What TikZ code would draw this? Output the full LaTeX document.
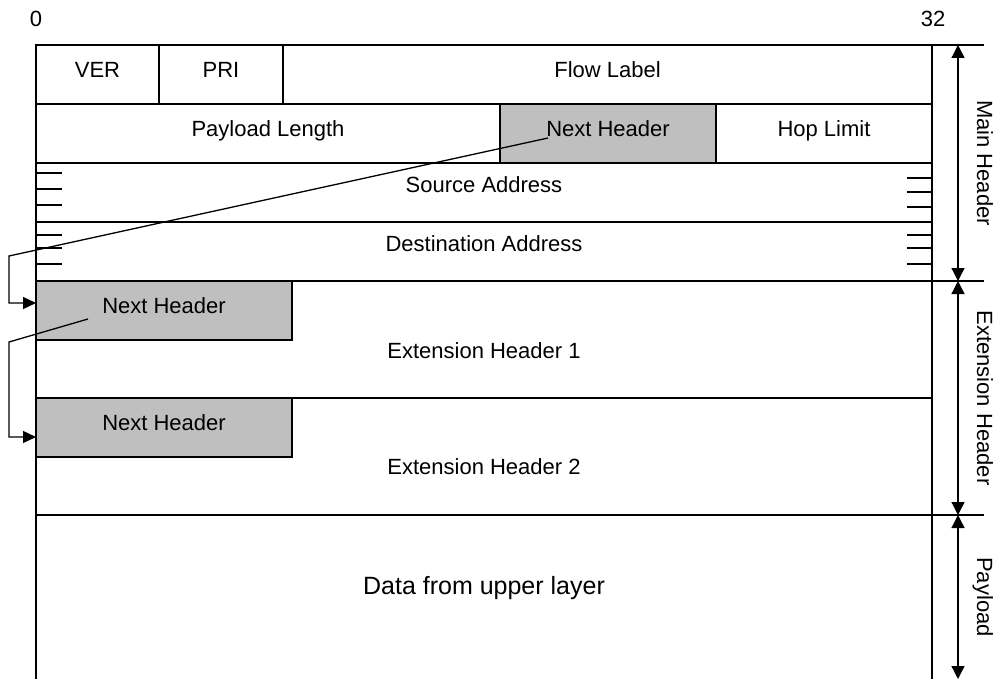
\documentclass[tikz,border=0pt]{standalone}
\usepackage{fontspec}
\setmainfont{Liberation Sans}
\usetikzlibrary{arrows.meta}
\begin{document}
\begin{tikzpicture}[x=1pt, y=-1pt, line width=1.3pt,
  txt/.style={font=\fontsize{22}{26}\selectfont, inner sep=0pt},
  cell/.style={draw, rectangle, inner sep=0pt, outer sep=0pt,
    font=\fontsize{22}{26}\selectfont, text height=16pt, text depth=10pt,
    minimum height=59pt},
  mid/.style={text height=16pt, text depth=16pt},
  shaded/.style={cell, fill=black!25},
  tip/.style={-{Triangle[length=13pt,width=12pt]}},
  span/.style={{Triangle[length=13pt,width=13pt]}-{Triangle[length=13pt,width=13pt]}}]
\useasboundingbox (0,0) rectangle (1000,679);

% bit scale
\node[txt, anchor=base] (b0)  at (36,27)  {0};
\node[txt, anchor=base] (b32) at (933,27) {32};

% main header, row 1
\node[cell, minimum width=123pt] (ver)  at (97.5,74.5)  {VER};
\node[cell, minimum width=124pt] (pri)  at (221,74.5)   {PRI};
\node[cell, minimum width=649pt] (flow) at (607.5,74.5) {Flow Label};
% row 2
\node[cell, minimum width=464pt] (plen) at (268,133.5) {Payload Length};
\node[shaded, minimum width=216pt] (nh0) at (608,133.5) {Next Header};
\node[cell, minimum width=216pt] (hop)  at (824,133.5) {Hop Limit};
% addresses
\node[cell, mid, minimum width=896pt] (src) at (484,192.5) {Source Address};
\node[cell, mid, minimum width=896pt] (dst) at (484,251.5) {Destination Address};

% extension headers
\node[cell, minimum width=896pt, minimum height=117pt] (ext1) at (484,339.5) {};
\node[cell, minimum width=896pt, minimum height=117pt] (ext2) at (484,456.5) {};
\node[shaded, minimum width=256pt] (nh1) at (164,310.5) {Next Header};
\node[shaded, minimum width=256pt] (nh2) at (164,427.5) {Next Header};
\node[txt, anchor=base] (ext1lbl) at (484,358) {Extension Header 1};
\node[txt, anchor=base] (ext2lbl) at (484,474) {Extension Header 2};

% payload area (open at the bottom)
\draw (ext2.south west) -- (36,679);
\draw (ext2.south east) -- (932,679);
\node[font=\fontsize{25}{30}\selectfont, inner sep=0pt, anchor=base] (data) at (484,594) {Data from upper layer};

% continuation ticks on the address rows
\foreach \y in {173,189,205,235,248,264} \draw (36,\y) -- (62,\y);
\foreach \y in {178,192,207,235,248,264} \draw (907,\y) -- (932,\y);

% next-header chain
\coordinate (k1) at (9,256);
\coordinate (k2) at (9,342);
\draw[tip] ([shift={(-60,4.5)}]nh0.center) -- (k1) |- ([yshift=7.5pt]nh1.west);
\draw[tip] ([shift={(-76,8.5)}]nh1.center) -- (k2) |- ([yshift=-9.5pt]nh2.west);

% section extents
\draw (flow.north east) -- (984,45);
\draw (dst.south east) -- (984,281);
\draw (ext2.south east) -- (984,515);
\coordinate (s0) at (958,45);
\coordinate (s1) at (958,281);
\coordinate (s2) at (958,515);
\coordinate (s3) at (958,679);
\draw[span] (s0) -- (s1);
\draw[span] (s1) -- (s2);
\draw[span] (s2) -- (s3);
\node[txt, rotate=-90, anchor=base] (lmain) at (977,163) {Main Header};
\node[txt, rotate=-90, anchor=base] (lext)  at (977,398) {Extension Header};
\node[txt, rotate=-90, anchor=base] (lpay)  at (977,597) {Payload};
\end{tikzpicture}
\end{document}
